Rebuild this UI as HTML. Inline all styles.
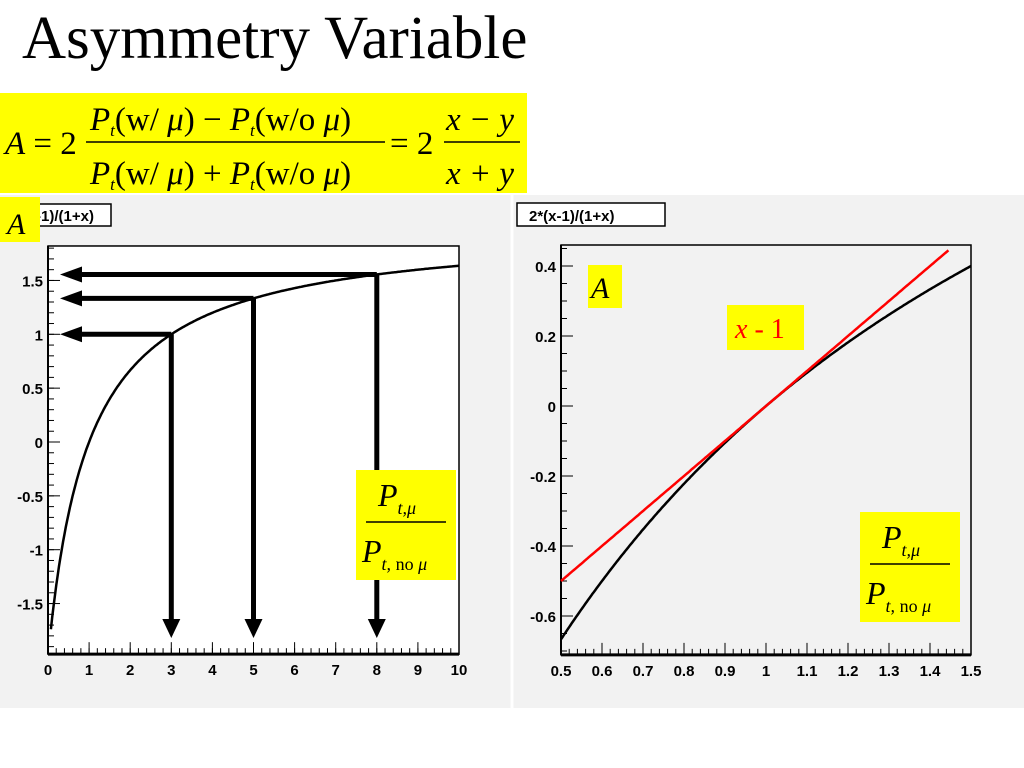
<!DOCTYPE html>
<html><head><meta charset="utf-8"><style>
body{margin:0;background:#fff;width:1024px;height:768px;overflow:hidden;font-family:"Liberation Serif",serif}
svg{position:absolute;left:0;top:0}
</style></head><body>
<svg width="1024" height="768">
<text x="22" y="58" font-size="61" font-family="Liberation Serif">Asymmetry Variable</text>
<g>
<rect x="0" y="93" width="527" height="100" fill="#ffff00"/>
<g font-family="Liberation Serif" font-size="33">
<text x="5" y="154"><tspan font-style="italic">A</tspan> = 2</text>
<text x="90" y="130"><tspan font-style="italic">P</tspan><tspan font-style="italic" font-size="17" dy="6">t</tspan><tspan dy="-6">(w/  </tspan><tspan font-style="italic">μ</tspan>) − <tspan font-style="italic">P</tspan><tspan font-style="italic" font-size="17" dy="6">t</tspan><tspan dy="-6">(w/o </tspan><tspan font-style="italic">μ</tspan>)</text>
<line x1="86" y1="142" x2="385" y2="142" stroke="#000" stroke-width="1.5"/>
<text x="90" y="184"><tspan font-style="italic">P</tspan><tspan font-style="italic" font-size="17" dy="6">t</tspan><tspan dy="-6">(w/  </tspan><tspan font-style="italic">μ</tspan>) + <tspan font-style="italic">P</tspan><tspan font-style="italic" font-size="17" dy="6">t</tspan><tspan dy="-6">(w/o </tspan><tspan font-style="italic">μ</tspan>)</text>
<text x="390" y="154">= 2</text>
<text x="446" y="130" font-style="italic">x − y</text>
<line x1="444" y1="142" x2="520" y2="142" stroke="#000" stroke-width="1.5"/>
<text x="446" y="184" font-style="italic">x + y</text>
</g></g>
<rect x="0" y="195" width="1024" height="513" fill="#f2f2f2"/>
<line x1="512" y1="195" x2="512" y2="708" stroke="#fff" stroke-width="3"/>
<g id="left"></g>
<g id="right"></g>
</svg>
<script>
const NS='http://www.w3.org/2000/svg';
function mk(p,t,a){const e=document.createElementNS(NS,t);for(const k in a)e.setAttribute(k,a[k]);p.appendChild(e);return e;}
// data
const leftXTicks=[0,1,2,3,4,5,6,7,8,9,10];
const leftYTicks=[-1.5,-1,-0.5,0,0.5,1,1.5];
const arrowXs=[3,5,8];
const rightXTicks=[0.5,0.6,0.7,0.8,0.9,1,1.1,1.2,1.3,1.4,1.5];
const rightYTicks=[-0.6,-0.4,-0.2,0,0.2,0.4];
const f=x=>2*(x-1)/(1+x);
const lin=x=>x-1;

function axisFrame(g,X,Y,x0,x1,y0,y1,fill,xt,yt,xminor,yminor,xfmt,yfmt){
  mk(g,'rect',{x:X(x0),y:Y(y1),width:X(x1)-X(x0),height:Y(y0)-Y(y1),fill:fill,stroke:'#000','stroke-width':1.5});
  mk(g,'line',{x1:X(x0),y1:Y(y0),x2:X(x1),y2:Y(y0),stroke:'#000','stroke-width':3});
  mk(g,'line',{x1:X(x0),y1:Y(y0),x2:X(x0),y2:Y(y1),stroke:'#000','stroke-width':2});
  for(let v=xt[0];v<=xt[xt.length-1]+1e-9;v+=xminor){mk(g,'line',{x1:X(v),y1:Y(y0),x2:X(v),y2:Y(y0)-6,stroke:'#000'});}
  xt.forEach(v=>{mk(g,'line',{x1:X(v),y1:Y(y0),x2:X(v),y2:Y(y0)-12,stroke:'#000'});
    const t=mk(g,'text',{x:X(v),y:Y(y0)+21,'text-anchor':'middle','font-family':'Liberation Sans','font-size':15,'font-weight':'bold'});t.textContent=xfmt(v);
    });
  for(let v=yt[0]-yminor*5;v<=y1;v+=yminor){if(v>=y0)mk(g,'line',{x1:X(x0),y1:Y(v),x2:X(x0)+6,y2:Y(v),stroke:'#000'});}
  yt.forEach(v=>{mk(g,'line',{x1:X(x0),y1:Y(v),x2:X(x0)+12,y2:Y(v),stroke:'#000'});
    const t=mk(g,'text',{x:X(x0)-5,y:Y(v)+6,'text-anchor':'end','font-family':'Liberation Sans','font-size':15,'font-weight':'bold'});t.textContent=yfmt(v);
    });
}
function curve(g,fn,X,Y,a,b,col,w,name){let d='';for(let i=0;i<=300;i++){const x=a+(b-a)*i/300;d+=(i?'L':'M')+X(x).toFixed(1)+','+Y(fn(x)).toFixed(1);}
  const p=mk(g,'path',{d:d,fill:'none',stroke:col,'stroke-width':w});}
function box(g,x,y,w,h,name){const r=mk(g,'rect',{x:x,y:y,width:w,height:h,fill:'#ffff00'});}
function frac(g,x,y){box(g,x,y,100,110,'ratio-label');
  const s=`<text x="${x+22}" y="${y+36}" font-size="32" font-style="italic">P<tspan font-size="18" dy="8">t,μ</tspan></text>
  <line x1="${x+10}" y1="${y+52}" x2="${x+90}" y2="${y+52}" stroke="#000" stroke-width="1.5"/>
  <text x="${x+6}" y="${y+92}" font-size="32" font-style="italic">P<tspan font-size="18" dy="8">t,</tspan><tspan font-size="18" font-style="normal"> no </tspan><tspan font-size="18">μ</tspan></text>`;
  const gg=mk(g,'g',{'font-family':'Liberation Serif'});gg.innerHTML=s;}

// left
{const g=document.getElementById('left');
 const X=v=>48+v*41.1, Y=v=>442-v*107.7;
 axisFrame(g,X,Y,0,10,-1.97,1.82,'#fff',leftXTicks,leftYTicks,0.2,0.1,v=>v,v=>v);
 curve(g,f,X,Y,0.07,10,'#000',2.5,'asymmetry-curve');
 arrowXs.forEach(a=>{const yy=Y(f(a));
   mk(g,'line',{x1:X(a),y1:yy,x2:78,y2:yy,stroke:'#000','stroke-width':5});
   mk(g,'polygon',{points:`60,${yy} 82,${yy-8} 82,${yy+8}`,fill:'#000'});
   mk(g,'line',{x1:X(a),y1:yy,x2:X(a),y2:620,stroke:'#000','stroke-width':5});
   mk(g,'polygon',{points:`${X(a)-9},619 ${X(a)+9},619 ${X(a)},638`,fill:'#000'});});
 const tb=mk(g,'rect',{x:20,y:204,width:91,height:22,fill:'#fff',stroke:'#000','stroke-width':1.5});
 
 const tt=mk(g,'text',{x:36,y:221,'font-family':'Liberation Sans','font-size':15,'font-weight':'bold'});tt.textContent='-1)/(1+x)';
 box(g,0,197,40,45,'a-label');const a=mk(g,'text',{x:7,y:234,'font-size':30,'font-style':'italic','font-family':'Liberation Serif'});a.textContent='A';
 frac(g,356,470);}
// right
{const g=document.getElementById('right');
 const X=v=>561+(v-0.5)*410, Y=v=>406-v*350;
 axisFrame(g,X,Y,0.5,1.5,-0.711,0.46,'#f2f2f2',rightXTicks,rightYTicks,0.02,0.05,v=>String(v),v=>String(v));
 curve(g,f,X,Y,0.5,1.5,'#000',2.5,'asymmetry-curve');
 curve(g,lin,X,Y,0.5,1.445,'#ff0000',2.5,'linear-approx-line');
 const tb=mk(g,'rect',{x:517,y:203,width:148,height:23,fill:'#fff',stroke:'#000','stroke-width':1.5});
 
 const tt=mk(g,'text',{x:529,y:221,'font-family':'Liberation Sans','font-size':15,'font-weight':'bold'});tt.textContent='2*(x-1)/(1+x)';
 box(g,588,265,34,43,'a-label');const a=mk(g,'text',{x:591,y:298,'font-size':30,'font-style':'italic','font-family':'Liberation Serif'});a.textContent='A';
 box(g,727,305,77,45,'x-minus-1-label');const b=mk(g,'text',{x:735,y:338,'font-size':28,fill:'#ff0000','font-family':'Liberation Serif'});b.innerHTML='<tspan font-style="italic">x</tspan> - 1';
 frac(g,860,512);}
</script>
</body></html>
